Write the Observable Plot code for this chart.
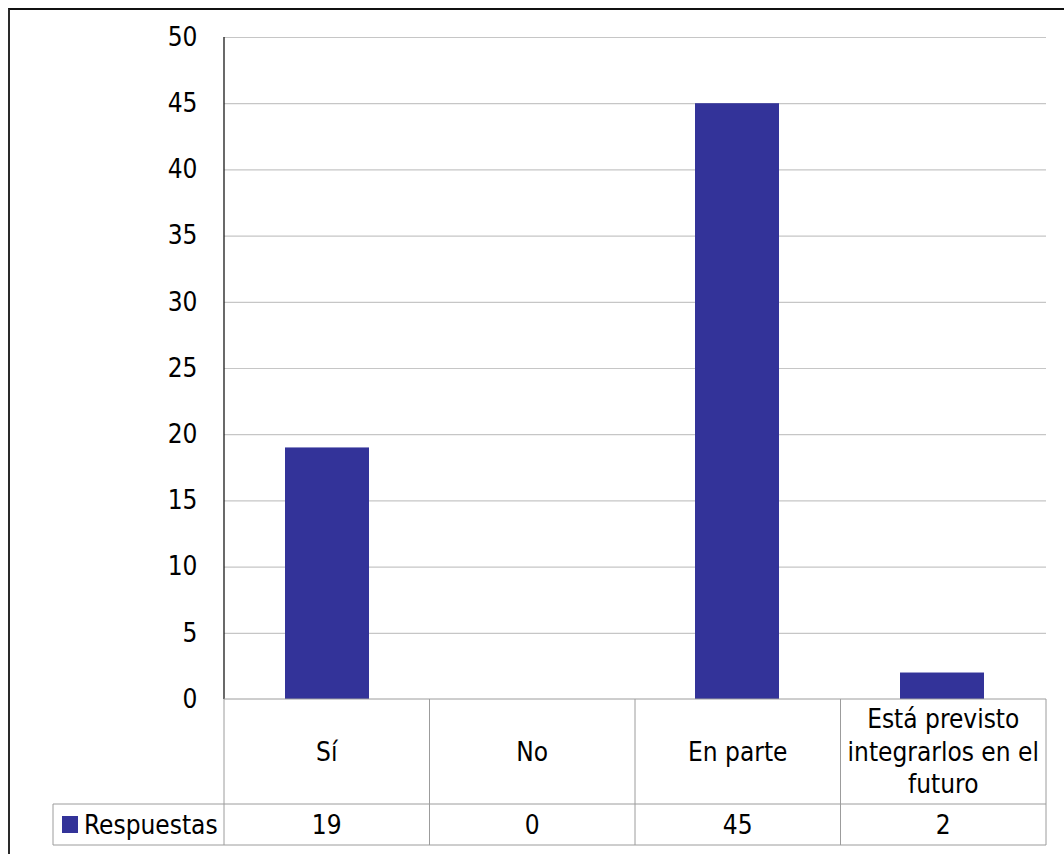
<!DOCTYPE html>
<html><head><meta charset="utf-8">
<script src="https://cdn.jsdelivr.net/npm/d3@7"></script>
<script src="https://cdn.jsdelivr.net/npm/@observablehq/plot@0.6"></script>
<style>
html,body{margin:0;padding:0;background:#fff;}
#wrap{position:relative;width:1064px;height:854px;overflow:hidden;}
#frame{position:absolute;left:8px;top:8px;width:2000px;height:2000px;border-left:2px solid #2a2a2a;border-top:2px solid #111;pointer-events:none;}
svg{display:block;}
</style></head><body><div id="wrap"><div id="frame"></div></div>
<script>
const categories = ["Sí", "No", "En parte", "Está previsto integrarlos en el futuro"];
const categoryLines = [["Sí"], ["No"], ["En parte"], ["Está previsto", "integrarlos en el", "futuro"]];
const values = [19, 0, 45, 2];
const seriesName = "Respuestas";
const yTicks = [0, 5, 10, 15, 20, 25, 30, 35, 40, 45, 50];

const FONT = "'DejaVu Sans Condensed', 'DejaVu Sans', sans-serif";
const BAR = "#333399";
const FS = 26;

const data = categories.map((c, i) => ({category: c, value: values[i]}));

const plot = Plot.plot({
  width: 1064, height: 854,
  marginLeft: 224, marginRight: 18, marginTop: 37, marginBottom: 155,
  style: {fontFamily: FONT, fontSize: FS + "px", color: "#000", background: "transparent"},
  x: {domain: categories, paddingInner: 0.59, paddingOuter: 0.295, axis: null},
  y: {domain: [0, 50], axis: null, label: null},
  marks: [
    Plot.gridY(yTicks.filter(d => d > 0), {stroke: "#c6c6c6", strokeOpacity: 1, strokeWidth: 1.2}),
    Plot.barY(data, {x: "category", y: "value", fill: BAR}),
    Plot.axisY(yTicks, {tickSize: 0, tickPadding: 27, fontSize: FS, fill: "#000", label: null})
  ]
});

document.getElementById("wrap").prepend(plot);

// Table and axis line, positioned from Plot's own scales
const xs = plot.scale("x"), ys = plot.scale("y");
const col = d3.scaleBand().domain(categories).range(xs.range);
const yLin = d3.scaleLinear().domain(ys.domain).range(ys.range);
const svg = d3.select(plot);
const g = svg.append("g").attr("font-family", FONT).attr("font-size", FS).attr("fill", "#000");
const x0 = xs.range[0], x1 = xs.range[1];
const tTop = yLin(0), rowSplit = tTop + 105, tBot = rowSplit + 41;
const legendLeft = 53;
const grey = "#9c9c9c";

// y axis line
g.append("line").attr("x1", x0).attr("x2", x0).attr("y1", yLin(50)).attr("y2", tTop)
  .attr("stroke", "#1a1a1a").attr("stroke-width", 1.3);

// horizontal table lines
g.append("line").attr("x1", x0).attr("x2", x1).attr("y1", tTop).attr("y2", tTop).attr("stroke", grey);
g.append("line").attr("x1", legendLeft).attr("x2", x1).attr("y1", rowSplit).attr("y2", rowSplit).attr("stroke", grey);
g.append("line").attr("x1", legendLeft).attr("x2", x1).attr("y1", tBot).attr("y2", tBot).attr("stroke", grey);
// vertical table lines
const vx = categories.map(c => col(c)).concat([x1]);
vx.forEach(x => g.append("line").attr("x1", x).attr("x2", x).attr("y1", tTop).attr("y2", tBot).attr("stroke", grey));
g.append("line").attr("x1", legendLeft).attr("x2", legendLeft).attr("y1", rowSplit).attr("y2", tBot).attr("stroke", grey);

// category labels
const lh = 32.5;
categories.forEach((c, i) => {
  const lines = categoryLines[i];
  const cx = col(c) + col.bandwidth() / 2;
  const cy = (tTop + rowSplit) / 2;
  const t = g.append("text").attr("text-anchor", "middle");
  lines.forEach((ln, k) => {
    t.append("tspan").attr("x", cx).attr("y", cy + (k - (lines.length - 1) / 2) * lh).attr("dy", "0.36em").text(ln);
  });
  g.append("text").attr("text-anchor", "middle").attr("x", cx).attr("y", (rowSplit + tBot) / 2).attr("dy", "0.36em").text(values[i]);
});

// legend key
g.append("rect").attr("x", 62).attr("y", 816).attr("width", 16).attr("height", 17).attr("fill", BAR);
g.append("text").attr("text-anchor", "start").attr("x", 84).attr("y", (rowSplit + tBot) / 2).attr("dy", "0.36em").text(seriesName);
</script>
</body></html>
